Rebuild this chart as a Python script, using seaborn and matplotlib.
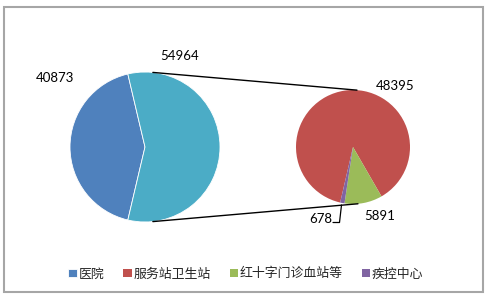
import matplotlib
matplotlib.use("Agg")
import matplotlib.pyplot as plt
import seaborn as sns
import numpy as np
from matplotlib.patches import Rectangle

sns.set_theme(style="white")
plt.rcParams['font.family'] = ['Noto Sans CJK SC', 'DejaVu Sans']

# data
main_labels = ["医院", "其他"]
main_values = [40873, 54964]
sub_labels = ["服务站卫生站", "红十字门诊血站等", "疾控中心"]
sub_values = [48395, 5891, 678]
legend_labels = ["医院", "服务站卫生站", "红十字门诊血站等", "疾控中心"]

c_blue, c_cyan, c_red, c_green, c_purple = "#4F81BD", "#4BACC6", "#C0504D", "#9BBB59", "#8064A2"

W, H = 489, 301
fig = plt.figure(figsize=(W / 100, H / 100), dpi=100)
ax = fig.add_axes([0, 0, 1, 1])


def Y(y):
    return H - y


# left pie
lc, lr = (145, Y(147)), 75
frac_blue = main_values[0] / sum(main_values)
lw, _ = ax.pie(main_values, colors=[c_blue, c_cyan], center=lc, radius=lr,
               startangle=180 + 180 * frac_blue, counterclock=False,
               wedgeprops=dict(linewidth=0.6, edgecolor="white"))

# right pie
rc, rr = (353, Y(147)), 57
frac_red = sub_values[0] / sum(sub_values)
rw, _ = ax.pie(sub_values, colors=[c_red, c_green, c_purple], center=rc, radius=rr,
               startangle=-60 + 360 * frac_red, counterclock=False,
               wedgeprops=dict(linewidth=0))

ax.set_xlim(0, W)
ax.set_ylim(0, H)
ax.set_aspect("equal")
ax.axis("off")


# connector lines
def pt(c, r, ang):
    a = np.deg2rad(ang)
    return c[0] + r * np.cos(a), c[1] + r * np.sin(a)


for la, ra in [(84, 86), (-84, -85)]:
    p1 = pt(lc, lr, la)
    p2 = pt(rc, rr, ra)
    ax.plot([p1[0], p2[0]], [p1[1], p2[1]], color="black", lw=1.0)

# labels
num_font = dict(fontsize=9.5, family=['Lato', 'DejaVu Sans'], color="black")
ax.text(55, Y(78), f"{main_values[0]}", ha="center", va="center", **num_font)
ax.text(180, Y(56), f"{main_values[1]}", ha="center", va="center", **num_font)
ax.text(395, Y(86), f"{sub_values[0]}", ha="center", va="center", **num_font)
ax.text(380, Y(216), f"{sub_values[1]}", ha="center", va="center", **num_font)
ax.text(321, Y(219), f"{sub_values[2]}", ha="center", va="center", **num_font)
ax.plot([333, 339.5, 341.5], [Y(222.5), Y(222.5), Y(205)], color="black", lw=0.9)

# border
ax.add_patch(Rectangle((3.5, Y(292.5)), 479, 286, fill=False, edgecolor="#A6A6A6", lw=1.5))

handles = [lw[0], rw[0], rw[1], rw[2]]
fig.legend(handles, legend_labels, loc="center", bbox_to_anchor=(246 / W, 1 - 274 / H),
           ncol=4, frameon=False, fontsize=9.3, handlelength=0.65, handleheight=0.65,
           handletextpad=0.15, columnspacing=1.45, borderpad=0)

fig.savefig("out.png", dpi=100)
